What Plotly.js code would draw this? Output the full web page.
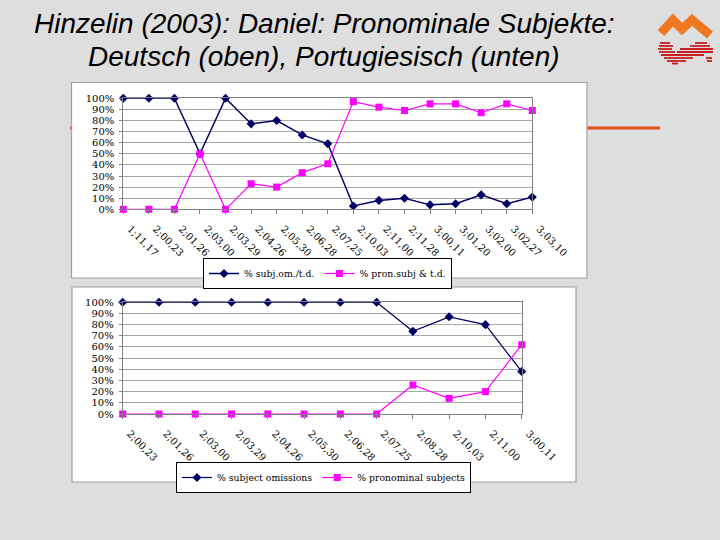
<!DOCTYPE html>
<html>
<head>
<meta charset="utf-8">
<script src="https://cdn.plot.ly/plotly-3.0.1.min.js"></script>
<style>html,body{margin:0;padding:0;background:#dedede;}#chart{width:720px;height:540px;}</style>
</head>
<body>
<div id="chart"></div>
<script>
// ---- data ----
var topCats = ["1;11,17","2;00,23","2;01,26","2;03,00","2;03,29","2;04,26","2;05,30","2;06,28","2;07,25","2;10,03","2;11,00","2;11,28","3;00,11","3;01,20","3;02,00","3;02,27","3;03,10"];
var topSubjOm = [100,100,100,50,100,77,80,67,59,3,8,10,4,5,13,5,11];
var topPronSubj = [0,0,0,50,0,23,20,33,41,97,92,89,95,95,87,95,89];
var bottomCats = ["2;00,23","2;01,26","2;03,00","2;03,29","2;04,26","2;05,30","2;06,28","2;07,25","2;08,28","2;10,03","2;11,00","3;00,11"];
var bottomSubjOm = [100,100,100,100,100,100,100,100,74,87,80,38];
var bottomPronSubj = [0,0,0,0,0,0,0,0,26,14,20,62];
var topNames = ["% subj.om./t.d.", "% pron.subj & t.d."];
var bottomNames = ["% subject omissions", "% pronominal subjects"];
var titleLines = ["Hinzelin (2003): Daniel: Pronominale Subjekte:", "Deutsch (oben), Portugiesisch (unten)"];

var W = 720, H = 540;
function px(x){return x/W;}
function py(y){return 1 - y/H;}

var NAVY = "#000066", PINK = "#ff00ff";
var serif = "DejaVu Serif, Liberation Serif, serif";

var traces = [
  {x: topCats, y: topSubjOm, name: topNames[0], type: "scatter", mode: "lines+markers",
   xaxis: "x", yaxis: "y", legend: "legend", cliponaxis: false,
   line: {color: NAVY, width: 1.5}, marker: {symbol: "diamond", size: 7, color: NAVY}},
  {x: topCats, y: topPronSubj, name: topNames[1], type: "scatter", mode: "lines+markers",
   xaxis: "x", yaxis: "y", legend: "legend", cliponaxis: false,
   line: {color: PINK, width: 1.2}, marker: {symbol: "square", size: 7, color: PINK}},
  {x: bottomCats, y: bottomSubjOm, name: bottomNames[0], type: "scatter", mode: "lines+markers",
   xaxis: "x2", yaxis: "y2", legend: "legend2", cliponaxis: false,
   line: {color: NAVY, width: 1.2}, marker: {symbol: "diamond", size: 7, color: NAVY}},
  {x: bottomCats, y: bottomPronSubj, name: bottomNames[1], type: "scatter", mode: "lines+markers",
   xaxis: "x2", yaxis: "y2", legend: "legend2", cliponaxis: false,
   line: {color: PINK, width: 1.2}, marker: {symbol: "square", size: 7, color: PINK}}
];

function xax(domain, n, anchor){
  return {domain: domain, anchor: anchor, type: "category", range: [0, n-1],
    showgrid: false, zeroline: false, showline: true, mirror: true, linecolor: "#808080", linewidth: 1,
    ticks: "outside", ticklen: 4, tickcolor: "#808080", tickangle: 45,
    ticklabelshift: 7, ticklabelstandoff: 5,
    tickfont: {family: serif, size: 10, color: "#000"}, fixedrange: true};
}
function yax(domain, anchor){
  return {domain: domain, anchor: anchor, range: [0, 100], dtick: 10, ticksuffix: "%",
    showgrid: true, gridcolor: "#a8a8a8", gridwidth: 1, zeroline: false,
    showline: true, mirror: true, linecolor: "#808080", linewidth: 1,
    ticks: "outside", ticklen: 3, tickcolor: "#808080", ticklabelstandoff: 3,
    tickfont: {family: serif, size: 10, color: "#000"}, fixedrange: true};
}

var shapes = [
  // orange rule behind the charts
  {type: "line", xref: "paper", yref: "paper", x0: px(70), x1: px(660), y0: py(128), y1: py(128),
   line: {color: "#e0501e", width: 3}, layer: "below"},
  // chart boxes
  {type: "rect", xref: "paper", yref: "paper", x0: px(71.5), x1: px(587), y0: py(82.5), y1: py(278),
   fillcolor: "#ffffff", line: {color: "#a0a0a0", width: 1.2}, layer: "below"},
  {type: "rect", xref: "paper", yref: "paper", x0: px(72), x1: px(576), y0: py(287), y1: py(482),
   fillcolor: "#ffffff", line: {color: "#a0a0a0", width: 1.2}, layer: "below"},
  // logo: orange M
  {type: "path", xref: "paper", yref: "paper",
   path: "M " + px(661) + " " + py(33) + " L " + px(673) + " " + py(20) + " L " + px(682) + " " + py(29) +
         " L " + px(692) + " " + py(20) + " L " + px(710) + " " + py(35),
   line: {color: "#f07820", width: 9}, layer: "above"}
];
// logo: red stripes
var stripes = [[43,660,670],[43,695,707],[46,659,673],[46,690,710],[49,658,672],[49,680,713],
               [52,659,675],[52,677,713],[55,661,704],[58,664,693],[58,706,712],[61,667,686],[61,707,712],[63.5,672,678]];
stripes.forEach(function(s){
  shapes.push({type: "line", xref: "paper", yref: "paper", x0: px(s[1]), x1: px(s[2]), y0: py(s[0]), y1: py(s[0]),
    line: {color: "#c81e1e", width: 1.8}, layer: "above"});
});

var legendBase = {orientation: "h", xanchor: "left", yanchor: "top",
    bgcolor: "#ffffff", bordercolor: "#000000", borderwidth: 1,
    font: {family: serif, size: 9.3, color: "#000"}, tracegroupgap: 0, itemwidth: 30};
var leg1 = Object.assign({}, legendBase, {x: px(203), y: py(258)});
var leg2 = Object.assign({}, legendBase, {x: px(176), y: py(462)});

var titleFont = {family: "Liberation Sans, Arial, sans-serif", size: 28, color: "#000", style: "italic"};

var layout = {
  width: W, height: H,
  margin: {l: 0, r: 0, t: 0, b: 0},
  paper_bgcolor: "#dedede", plot_bgcolor: "rgba(0,0,0,0)",
  showlegend: true,
  xaxis: xax([px(123.3), px(532.3)], topCats.length, "y"),
  yaxis: yax([py(209.3), py(98.3)], "x"),
  xaxis2: xax([px(122.7), px(521.7)], bottomCats.length, "y2"),
  yaxis2: yax([py(414), py(302.3)], "x2"),
  legend: leg1,
  legend2: leg2,
  shapes: shapes,
  annotations: [
    {xref: "paper", yref: "paper", x: px(324), y: py(24), text: titleLines[0], showarrow: false,
     xanchor: "center", yanchor: "middle", font: titleFont},
    {xref: "paper", yref: "paper", x: px(324), y: py(57), text: titleLines[1], showarrow: false,
     xanchor: "center", yanchor: "middle", font: titleFont}
  ]
};

Plotly.newPlot("chart", traces, layout, {displayModeBar: false, staticPlot: true});
</script>
</body>
</html>
